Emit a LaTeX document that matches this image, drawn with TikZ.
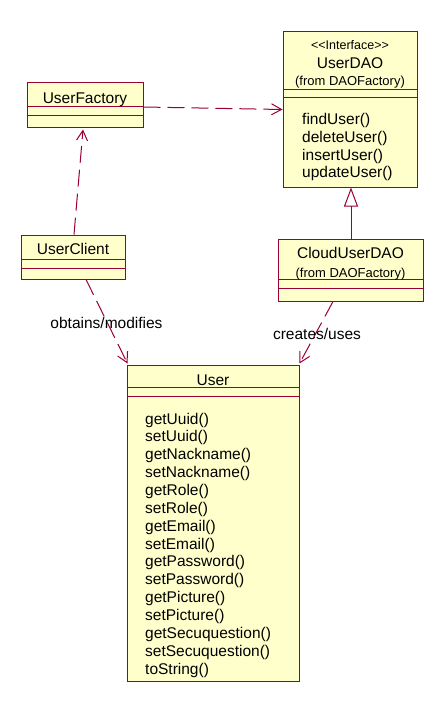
\documentclass[tikz,border=0pt]{standalone}
\usepackage{fontspec}
\setmainfont{Liberation Sans}
\usetikzlibrary{arrows.meta,calc}
\definecolor{rosefill}{RGB}{255,255,204}
\definecolor{roseline}{RGB}{153,0,51}
\begin{document}
\begin{tikzpicture}[x=1pt,y=-1pt,
  cls/.style={draw=roseline, fill=rosefill, line width=1pt, inner sep=0pt, rectangle},
  sepline/.style={draw=roseline, line width=1pt},
  txt/.style={inner sep=0pt, anchor=base, font=\fontsize{15.5}{18}\selectfont},
  meth/.style={inner sep=0pt, anchor=base west, font=\fontsize{15.5}{18}\selectfont},
  stereo/.style={inner sep=0pt, anchor=base, font=\fontsize{12.5}{14}\selectfont},
  pkg/.style={inner sep=0pt, anchor=base, font=\fontsize{13}{15}\selectfont},
  dep/.style={draw=roseline, line width=1pt, dash pattern=on 17pt off 7pt,
    -{Straight Barb[length=10pt,width=11pt,line width=1pt]}},
  gen/.style={draw=roseline, line width=1pt,
    -{Triangle[open,length=19pt,width=14pt,line width=1pt,fill=white]}}
]
\useasboundingbox (0,0) rectangle (445,714);

% boxes
\node[cls, minimum width=116pt, minimum height=45pt] (uf) at (85,105.5) {};
\node[cls, minimum width=134pt, minimum height=155pt] (dao) at (350,109.5) {};
\node[cls, minimum width=104pt, minimum height=44pt] (uc) at (73,257) {};
\node[cls, minimum width=145pt, minimum height=62pt] (cud) at (350.5,270) {};
\node[cls, minimum width=172pt, minimum height=316pt] (user) at (213,523) {};

% compartments
\draw[sepline] ($(uf.north west)+(0,24)$) -- ($(uf.north east)+(0,24)$);
\draw[sepline] ($(uf.north west)+(0,33)$) -- ($(uf.north east)+(0,33)$);
\draw[sepline] ($(dao.north west)+(0,58)$) -- ($(dao.north east)+(0,58)$);
\draw[sepline] ($(dao.north west)+(0,66)$) -- ($(dao.north east)+(0,66)$);
\draw[sepline] ($(uc.north west)+(0,25)$) -- ($(uc.north east)+(0,25)$);
\draw[sepline] ($(uc.north west)+(0,34)$) -- ($(uc.north east)+(0,34)$);
\draw[sepline] ($(cud.north west)+(0,41)$) -- ($(cud.north east)+(0,41)$);
\draw[sepline] ($(cud.north west)+(0,50)$) -- ($(cud.north east)+(0,50)$);
\draw[sepline] ($(user.north west)+(0,23)$) -- ($(user.north east)+(0,23)$);
\draw[sepline] ($(user.north west)+(0,32)$) -- ($(user.north east)+(0,32)$);

% names
\node[txt] (ufname) at (85,103.3) {UserFactory};
\node[stereo] (daost) at (350,50) {{<}{<}Interface{>}{>}};
\node[txt] (daoname) at (350,68.3) {UserDAO};
\node[pkg] (daopkg) at (350,86) {(from DAOFactory)};
\node[txt] (ucname) at (73,254) {UserClient};
\node[txt] (cudname) at (350.5,258.3) {CloudUserDAO};
\node[pkg] (cudpkg) at (350.5,277.3) {(from DAOFactory)};
\node[txt] (username) at (213,385) {User};

% UserDAO operations
\foreach \m [count=\i from 0] in {findUser(),deleteUser(),insertUser(),updateUser()}
  \node[meth] (dm\i) at (302,124.3+17.9*\i) {\m};

% User operations
\foreach \m [count=\i from 0] in {getUuid(),setUuid(),getNackname(),setNackname(),getRole(),setRole(),getEmail(),setEmail(),getPassword(),setPassword(),getPicture(),setPicture(),getSecuquestion(),setSecuquestion(),toString()}
  \node[meth] (um\i) at (145,424+17.86*\i) {\m};

% connectors
\draw[dep] ($(uf.east)+(0,1.5)$) -- ($(dao.west)+(0,0)$);
\draw[dep] ($(uc.north)+(1,0)$) -- ($(uf.south)+(-2,1)$);
\draw[gen] ($(cud.north)+(0.5,0)$) -- ($(dao.south)+(1,0)$);
\draw[dep] ($(uc.south)+(13,0)$) -- ($(user.north west)+(1,-1)$);
\draw[dep] ($(cud.south)+(-17.5,0)$) -- ($(user.north east)+(0,-1)$);

% labels
\node[txt] (l1) at (106.5,328.3) {obtains/modifies};
\node[txt] (l2) at (317,339.3) {creates/uses};
\end{tikzpicture}
\end{document}
